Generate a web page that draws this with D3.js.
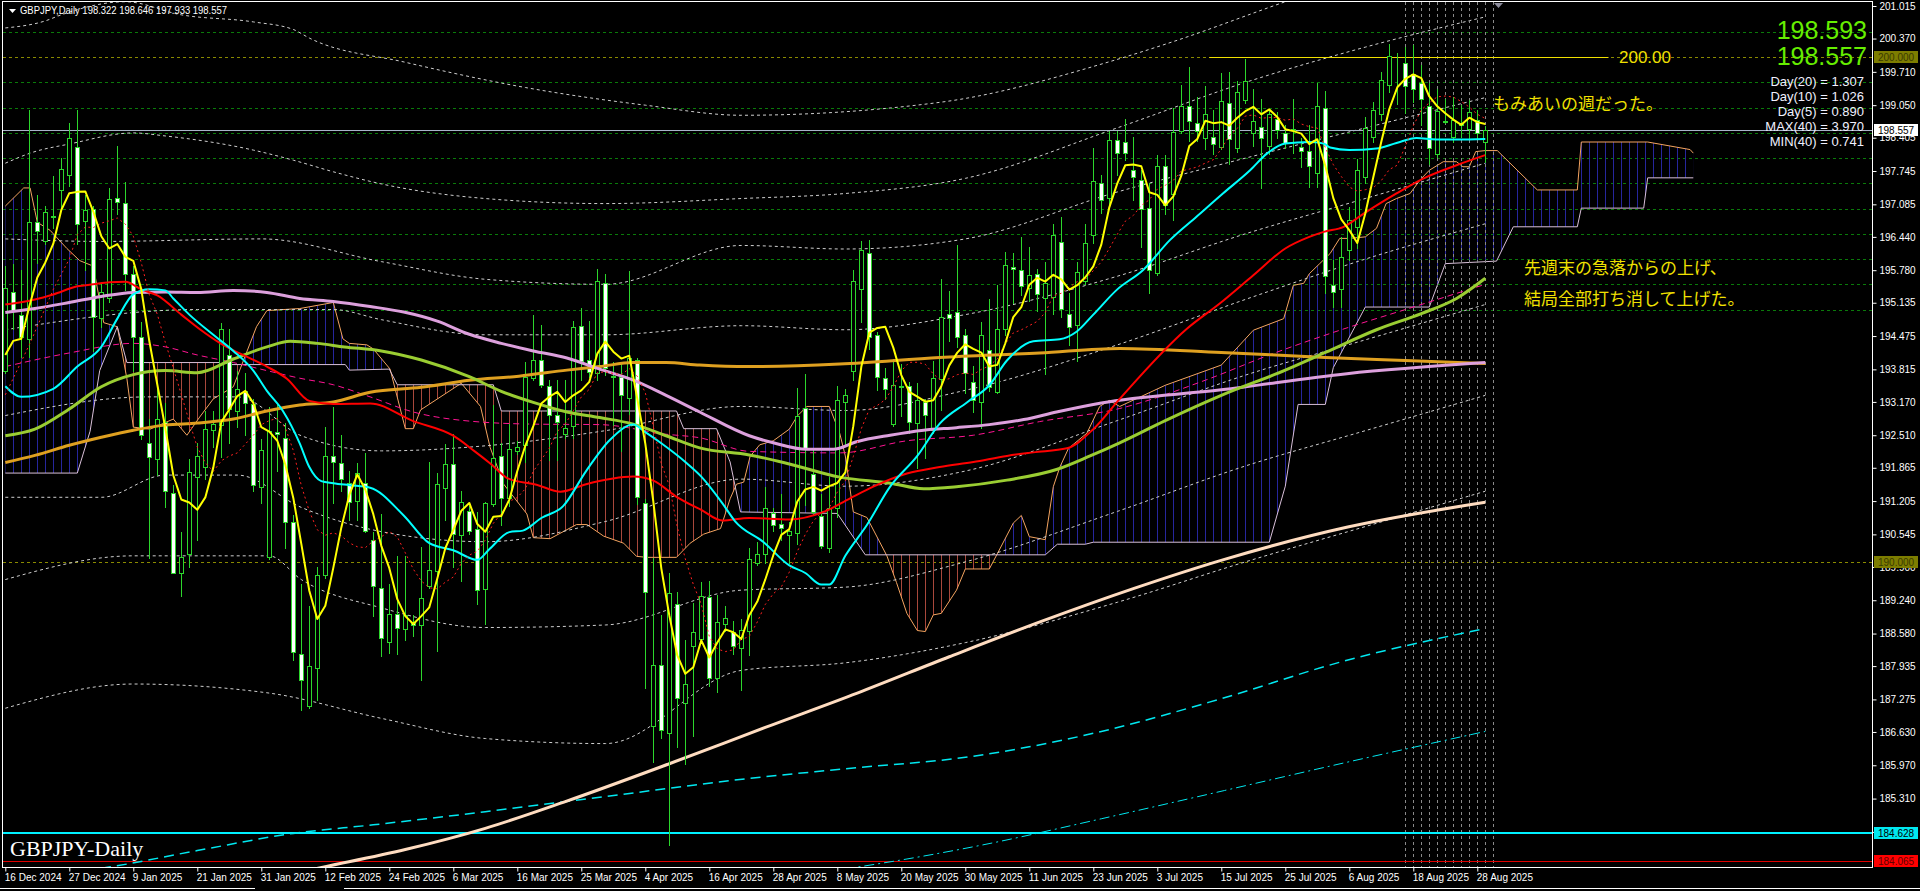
<!DOCTYPE html>
<html><head><meta charset="utf-8">
<script src="https://cdn.jsdelivr.net/npm/d3@7"></script>
<style>
html,body{margin:0;padding:0;background:#000;overflow:hidden;}
svg{display:block;}
</style></head><body>
<svg id="c" width="1920" height="891"></svg>
<script>
// ---------------- DATA ----------------
const xLabels = ["16 Dec 2024","27 Dec 2024","9 Jan 2025","21 Jan 2025","31 Jan 2025","12 Feb 2025","24 Feb 2025","6 Mar 2025","16 Mar 2025","25 Mar 2025","4 Apr 2025","16 Apr 2025","28 Apr 2025","8 May 2025","20 May 2025","30 May 2025","11 Jun 2025","23 Jun 2025","3 Jul 2025","15 Jul 2025","25 Jul 2025","6 Aug 2025","18 Aug 2025","28 Aug 2025"];
const yTicks = [201.015,200.370,199.710,199.050,198.405,197.745,197.085,196.440,195.780,195.135,194.475,193.815,193.170,192.510,191.865,191.205,190.545,189.900,189.240,188.580,187.935,187.275,186.630,185.970,185.310,184.650];

const open = [193.79,195.34,194.90,194.42,196.73,196.36,196.83,197.37,197.66,198.22,
196.76,196.99,194.84,195.22,197.21,197.11,195.70,194.45,192.35,192.03,
192.77,191.37,189.78,190.16,191.69,191.88,192.61,192.71,194.09,192.99,
193.39,193.13,191.48,190.10,192.58,192.45,190.80,188.17,187.14,187.90,
189.74,192.09,191.95,191.57,191.20,191.56,190.44,189.49,188.42,188.97,
188.68,188.79,188.74,189.52,189.82,191.47,191.94,190.53,191.01,190.66,
189.47,191.14,192.09,191.26,192.20,192.31,193.65,194.01,193.49,192.91,
192.53,192.69,194.68,194.01,193.74,195.53,193.68,193.67,193.25,194.01,
191.17,186.75,187.95,186.61,189.16,187.21,188.33,188.48,189.30,187.69,
188.77,188.61,188.30,188.64,189.97,190.16,190.96,190.75,190.54,190.58,
193.04,191.75,190.90,190.27,191.07,193.17,193.78,195.40,196.13,194.49,
193.65,192.74,193.48,193.48,192.76,193.17,192.61,193.63,194.92,194.96,
194.49,193.57,193.16,194.20,193.37,194.62,195.84,195.78,195.42,195.71,
195.22,195.24,196.34,194.92,194.70,195.57,196.48,197.50,197.22,198.36,
198.32,197.76,197.56,197.02,195.73,197.85,197.29,198.54,199.04,198.69,
198.39,198.42,198.23,199.10,198.21,199.16,198.49,198.62,198.25,198.78,
198.49,198.58,198.23,198.15,197.70,198.99,195.48,195.40,196.19,196.64,
197.62,198.41,198.87,199.45,199.91,199.89,199.67,199.48,199.04,198.09,
198.72,198.41,198.70,198.57,198.75,198.322];
const high = [195.86,195.90,195.78,198.96,197.27,197.05,197.65,198.00,198.70,198.96,
197.27,197.05,195.54,197.41,198.24,197.53,195.86,194.76,192.83,193.55,
193.15,191.52,190.60,192.03,192.35,192.99,192.99,194.74,194.62,193.79,
193.75,193.23,192.43,193.07,193.11,192.75,190.92,189.57,189.13,189.89,
192.67,193.07,192.51,191.80,191.95,192.15,190.60,190.95,189.56,190.11,
190.11,188.94,190.29,191.98,191.76,192.33,192.53,191.41,191.10,190.99,
191.19,193.10,192.35,192.73,192.39,193.96,194.90,194.70,193.60,193.60,
193.60,194.77,195.03,194.77,195.80,195.71,193.96,193.96,195.76,194.04,
191.25,190.07,188.94,189.78,189.41,188.46,189.19,189.60,189.63,189.34,
189.13,188.83,188.86,190.27,190.39,191.49,191.07,191.34,190.80,193.45,
193.73,192.25,191.34,191.68,193.48,193.42,195.79,196.36,196.38,194.56,
193.84,194.03,193.92,193.57,193.55,193.22,193.99,195.60,195.36,196.28,
194.61,193.88,194.75,195.21,195.49,196.15,196.13,196.44,196.23,195.81,
195.95,196.69,196.84,195.32,195.94,196.69,198.20,197.67,198.54,198.54,
198.77,198.42,197.76,197.50,198.07,198.06,198.99,199.45,199.80,199.22,
199.43,198.95,199.69,199.71,199.52,199.96,199.38,199.18,198.95,198.92,
198.66,199.18,198.39,198.66,199.48,199.34,195.98,196.44,197.04,197.99,
198.82,199.12,199.71,200.26,200.08,200.20,200.24,199.85,199.48,199.38,
199.18,199.22,199.05,199.15,198.95,198.646];
const low = [193.75,194.62,194.06,194.06,195.93,196.29,196.61,196.97,197.45,196.29,
195.78,194.18,194.66,195.14,196.89,195.38,193.79,192.43,190.08,191.72,
191.08,189.77,189.33,189.89,190.44,191.64,192.27,192.07,192.35,192.67,
192.51,191.40,191.16,190.05,191.80,190.28,188.05,187.06,187.10,187.26,
189.69,191.16,191.40,190.84,190.84,190.60,188.93,188.13,188.20,188.17,
188.46,188.53,187.65,189.49,188.24,190.84,189.89,189.63,190.55,189.16,
188.77,191.10,190.73,191.10,192.13,191.97,193.60,193.46,192.02,192.02,
192.46,192.46,193.60,193.67,193.60,193.71,192.72,192.20,192.94,191.14,
187.50,186.04,186.51,184.39,186.33,186.00,186.55,188.46,187.54,187.43,
188.64,188.17,187.47,188.15,189.93,189.97,190.62,190.43,189.97,190.35,
191.12,190.92,190.27,190.20,190.88,192.32,193.61,194.75,194.22,193.40,
193.23,192.70,192.89,192.55,191.87,192.06,192.55,193.00,194.37,194.26,
193.35,192.97,192.66,193.38,193.35,194.49,195.13,195.28,195.17,194.98,
193.73,194.92,194.86,194.30,193.99,195.51,196.31,196.91,197.07,197.67,
197.96,197.17,196.24,195.32,195.68,196.90,196.77,198.49,198.34,198.34,
198.19,198.09,198.19,197.89,198.13,199.10,198.24,197.40,198.09,198.39,
198.21,198.11,197.83,197.43,197.43,195.32,195.05,195.05,195.99,196.21,
197.50,198.32,198.76,199.32,199.08,198.89,199.12,198.66,197.89,198.03,
198.70,198.32,198.42,198.37,198.39,197.933];
const close = [195.43,194.99,194.46,196.73,196.56,196.93,196.85,197.79,198.40,196.69,
196.97,194.86,195.34,197.19,197.13,195.71,194.46,192.51,192.07,192.83,
191.40,189.78,190.10,191.78,192.10,192.63,192.73,194.61,193.03,193.43,
193.15,191.52,192.21,192.59,192.53,190.80,188.21,187.66,187.94,189.74,
192.10,191.97,191.64,191.18,191.76,190.62,189.53,188.50,188.97,188.69,
188.94,188.74,189.29,189.84,191.54,191.94,190.55,191.19,190.62,189.45,
191.17,192.05,191.26,192.24,192.28,193.67,194.00,193.50,192.91,192.77,
192.66,194.66,193.99,193.76,195.56,193.85,193.67,193.30,194.05,191.28,
189.41,187.96,186.66,189.39,187.31,187.59,188.61,189.33,187.69,188.80,
188.88,188.33,188.66,190.05,190.15,191.07,190.73,190.68,190.62,192.89,
192.26,190.98,190.31,191.07,193.20,193.31,195.56,196.19,194.45,193.67,
193.42,193.50,193.47,192.78,193.20,192.92,193.65,194.86,194.84,194.46,
193.75,193.20,194.49,193.46,194.62,195.89,195.80,195.47,195.68,195.30,
195.52,196.47,195.02,194.66,195.74,196.31,197.54,197.18,198.36,198.11,
198.11,197.62,197.00,195.78,197.85,197.07,198.52,199.04,198.73,198.54,
198.87,198.29,199.14,198.38,199.32,199.52,198.73,198.39,198.87,198.56,
198.31,198.55,198.14,197.84,199.04,195.67,195.35,196.04,196.77,197.76,
198.59,198.95,199.55,200.02,199.91,199.43,199.38,199.18,198.21,198.94,
198.74,198.75,198.66,198.92,198.50,198.557];

// leading values of the short averages (before enough bars exist)
const sma5Lead = [[0,194.10],[1,194.38],[2,194.42],[3,195.06]];
const sma10Lead = [[0,193.31],[3,194.30],[6,195.40],[8,196.00]];

// Moving-average lines: [bar, price]
const maCyan = [[0,193.48],[2,193.27],[6,193.43],[9,193.87],[12,194.26],[14,194.82],[16,195.30],[18,195.40],[20,195.38],[21,195.22],[23,194.90],[26,194.50],[28.5,194.18],[31,193.79],[32.7,193.39],[34.7,192.99],[36.8,192.35],[38,191.88],[39.5,191.60],[41,191.56],[43,191.52],[45.6,191.47],[49.8,190.92],[53,190.37],[56,190.23],[59,190.04],[60.5,190.25],[63,190.59],[64.7,190.62],[67,190.87],[69.7,191.10],[72.6,191.80],[75.6,192.42],[78.5,192.72],[80,192.57],[82,192.35],[85,191.98],[87,191.69],[89.6,191.17],[91.2,190.81],[94.8,190.39],[98,189.93],[100,189.78],[102,189.55],[103,189.55],[105,190.12],[107.7,190.73],[110.6,191.49],[114,192.10],[116.8,192.74],[120.2,193.16],[123,193.50],[125.2,193.99],[128.5,194.37],[131.8,194.41],[133.9,194.56],[136,194.90],[139,195.40],[142.2,195.78],[145.6,196.38],[148.9,196.84],[152.2,197.30],[155.6,197.76],[157.7,198.09],[160,198.29],[163,198.32],[164.8,198.29],[165.6,198.21],[168,198.16],[171.4,198.19],[173.9,198.30],[176.4,198.40],[178.9,198.37],[181.4,198.37],[185,198.38]];
const maRed = [[0,195.10],[3.7,195.20],[6,195.30],[9,195.46],[11,195.50],[13,195.54],[15,195.55],[17,195.40],[19,195.28],[22,194.90],[24.4,194.60],[26.8,194.34],[29.3,194.13],[32.7,193.87],[35.2,193.63],[38,193.19],[41,193.13],[45.6,193.14],[51,192.79],[56,192.50],[58.6,192.20],[60.7,191.94],[62.9,191.65],[66.4,191.53],[69.4,191.39],[72.6,191.54],[78.5,191.69],[81,191.61],[84,191.28],[87,191.03],[89.6,190.82],[93,190.87],[98,190.84],[102.3,190.99],[105.6,191.26],[108.5,191.49],[112.7,191.75],[116.8,191.88],[121,191.98],[125.2,192.10],[128.5,192.17],[132.7,192.25],[136,192.63],[139.3,193.23],[147.7,194.62],[151.8,195.12],[156,195.68],[160,196.21],[163,196.44],[164.8,196.54],[167.3,196.64],[169.8,196.90],[173.9,197.30],[177.3,197.60],[181.4,197.86],[185,198.06]];
const maPlum = [[0,194.94],[3.7,195.02],[8,195.14],[12,195.26],[16,195.34],[20,195.35],[24,195.34],[28.5,195.38],[32.7,195.34],[36.8,195.22],[41,195.16],[45.6,195.06],[49.8,194.95],[54,194.77],[58,194.51],[62,194.33],[66,194.18],[70.2,194.04],[74.3,193.82],[78.5,193.60],[82.6,193.30],[86.8,192.97],[93,192.50],[96,192.36],[100.2,192.23],[103.5,192.23],[106.4,192.38],[110.6,192.51],[114.8,192.61],[118.9,192.66],[123,192.72],[127.3,192.82],[131.4,192.97],[137,193.15],[152,193.41],[167.7,193.73],[185,193.95]];
const maGold = [[0,191.97],[3.7,192.11],[8,192.31],[12,192.47],[16,192.61],[20,192.71],[24,192.75],[28.5,192.83],[32.7,192.99],[36.8,193.11],[41,193.17],[45.6,193.36],[52,193.46],[58,193.60],[64.2,193.68],[70.2,193.80],[74.3,193.87],[78.5,193.95],[82.6,193.95],[86.8,193.90],[93,193.87],[104.3,193.92],[116.8,194.05],[129.3,194.14],[139.3,194.23],[152,194.15],[165,194.05],[175,193.99],[185,193.93]];
const maYellowGreen = [[0,192.50],[3.7,192.63],[8,193.03],[12,193.47],[16,193.71],[20,193.79],[24,193.75],[28.5,194.02],[32.7,194.26],[35.6,194.37],[39,194.33],[42.4,194.26],[47,194.18],[52,194.00],[58,193.67],[62,193.38],[66,193.16],[70.2,192.97],[74.3,192.86],[78.5,192.73],[82.6,192.50],[86.8,192.26],[93,192.12],[98,191.94],[104.3,191.68],[110.6,191.56],[114.8,191.45],[118.9,191.49],[125.2,191.62],[131.4,191.83],[135.6,192.10],[139.3,192.36],[145,192.80],[152,193.30],[160,193.80],[165,194.15],[171.4,194.60],[177,194.92],[181.4,195.22],[185,195.62]];
const maCream = [[34,183.76],[40,183.96],[50,184.30],[60,184.72],[70,185.25],[83,186.00],[95,186.72],[106.5,187.40],[118,188.12],[129.5,188.82],[141,189.47],[152.4,190.05],[167.8,190.69],[185,191.18]];
const envCyanDash = [[8,183.85],[12,183.93],[24,184.28],[36,184.62],[46,184.79],[60,185.05],[75,185.35],[93,185.71],[105,185.90],[121,186.15],[137,186.64],[152,187.29],[167,188.02],[185,188.68]];
const envCyanDashDot = [[95,183.70],[106,183.94],[121.8,184.38],[137,184.91],[152.4,185.47],[167.7,186.03],[185,186.64]];
const pinkDash = [[0,193.87],[8,194.14],[16,194.33],[20,194.26],[24,194.10],[28.5,193.95],[32.7,193.79],[36.8,193.64],[41,193.51],[45.6,193.27],[51,192.97],[58,192.79],[66,192.73],[74.3,192.72],[82.6,192.53],[86.8,192.46],[93,192.19],[104.3,192.16],[112.7,192.40],[121,192.51],[129.3,192.78],[139.3,193.04],[150,193.60],[158,194.10],[167,194.60],[175,195.00],[185,195.50]];

// Ichimoku spans (shifted 26 bars ahead)
const spanA = [[0,197.05],[2.3,197.41],[3.1,197.41],[4,196.73],[5.6,196.57],[7.7,196.21],[9.3,195.97],[11,195.86],[12.3,194.74],[14,194.66],[15.2,193.63],[16,192.67],[18.1,192.63],[21,192.83],[22.7,192.51],[24.3,192.87],[26,193.23],[28.5,193.47],[31.4,194.66],[32.7,194.98],[36.8,195.02],[41,195.14],[42.2,194.42],[43,194.33],[45.2,194.30],[46,194.22],[48.1,193.82],[50,192.64],[51,192.64],[51.9,193.01],[57,193.54],[59.4,193.08],[60.6,192.27],[62.3,191.54],[65.2,190.95],[66,190.48],[68.1,190.46],[71.4,190.74],[72.7,190.74],[74.8,190.51],[77.3,190.37],[78.9,190.11],[80.2,190.09],[83.9,190.09],[85.6,190.37],[87.3,190.55],[89.4,190.66],[90.6,191.25],[91.4,191.54],[92.3,191.58],[93.1,192.09],[94.3,192.32],[96,192.40],[98,192.63],[99,192.89],[100.2,193.08],[103,193.08],[104.3,192.55],[105,192.10],[106,190.99],[107.7,190.88],[110.2,190.12],[111.4,189.59],[112.7,188.98],[114,188.64],[115,188.62],[116,188.95],[117,188.98],[118.9,189.44],[120,189.86],[123,189.86],[124,190.16],[126,190.77],[127,190.92],[128,190.50],[130,190.44],[131,191.49],[131.8,191.87],[132.9,192.25],[135.2,192.55],[136.8,193.08],[138,193.20],[139.3,193.08],[145,193.50],[152,193.90],[156,194.59],[159.8,194.82],[161,195.48],[162.3,195.52],[163,195.71],[164.3,195.91],[165.6,196.11],[166.8,196.41],[168,196.41],[170,196.44],[171.4,196.61],[172.6,197.10],[173.9,197.20],[175.6,197.30],[176.8,197.56],[178,197.76],[179.75,197.93],[181.4,197.93],[182.2,197.83],[183,197.83],[183.8,198.13],[185,198.15],[186.5,198.15],[191.5,197.37],[196.5,197.37],[197,198.32],[205.3,198.32],[210.6,198.17],[211,198.10]];
const spanB = [[0,191.76],[9,191.76],[10.6,192.59],[11.8,193.79],[14,194.66],[15.2,193.95],[27.5,193.95],[28,193.91],[42.5,193.91],[43,193.80],[48,193.82],[49,193.51],[61,193.51],[62,192.99],[83.9,192.99],[84.8,192.64],[88.9,192.64],[90.6,191.98],[91.9,190.99],[104,190.96],[107.5,190.14],[130,190.14],[131.5,190.35],[135,190.35],[136,190.39],[158,190.39],[160,191.50],[161.6,193.12],[165,193.12],[166,193.85],[170,195.05],[178,195.05],[180,195.91],[186.4,195.96],[188.5,196.64],[196.5,196.64],[197,197.01],[204.8,197.01],[205.3,197.61],[211,197.61]];

// Dotted deviation bands: [bar, price]
const bands = [
 [[0,200.58],[5,200.72],[7,200.84],[15,201.10],[22,200.84],[31,200.70],[36,200.55],[38,200.38],[50,199.90],[65,199.40],[80,199.05],[92,198.85],[117,199.11],[138,199.91],[146,200.31],[160,201.10],[175,201.90]],
 [[0,197.90],[3.5,198.12],[8,198.28],[16,198.50],[20,198.44],[31,198.16],[36,197.96],[41,197.73],[47,197.49],[60,197.20],[75,197.10],[92,197.20],[105,197.30],[120,197.60],[139,198.60],[155,199.50],[170,200.20],[185,200.80]],
 [[0,196.40],[12,196.35],[32,196.40],[47,195.95],[60,195.60],[75,195.50],[92,196.27],[105,196.20],[120,196.40],[139,197.33],[155,198.00],[170,198.60],[185,199.20]],
 [[0,194.60],[24,195.00],[41,195.00],[47,194.80],[60,194.50],[75,194.50],[92,194.68],[105,194.60],[120,194.90],[139,195.66],[155,196.50],[170,197.20],[185,197.90]],
 [[0,192.90],[18,193.27],[29,193.27],[37,192.50],[47,192.20],[60,192.30],[75,192.60],[92,193.08],[105,193.00],[120,193.40],[139,194.30],[155,195.20],[170,196.00],[185,196.70]],
 [[0,191.28],[12,191.28],[20,191.72],[29,191.72],[37,191.08],[47,190.60],[60,190.40],[75,190.80],[92,191.64],[105,191.50],[120,191.80],[139,192.80],[155,193.70],[170,194.40],[185,195.10]],
 [[0,189.65],[16,190.12],[33,190.12],[37,189.65],[47,189.09],[60,188.70],[75,188.75],[92,189.44],[105,189.50],[120,190.00],[139,191.00],[155,191.90],[170,192.60],[185,193.30]],
 [[0,187.10],[16,187.58],[33,187.40],[47,186.90],[60,186.50],[75,186.40],[92,187.85],[105,188.00],[120,188.40],[139,189.20],[155,190.00],[170,190.70],[185,191.40]]
];

const gridLevels = [195.0,195.5,196.0,196.5,197.0,197.5,198.0,198.5,199.0,199.5,200.5];
const roundLevels = [200.0, 190.0];
const markedBars = [175,176,177,178,179,180,181,182,183,184,185,186];
const infoLines = ["Day(20) = 1.307","Day(10) = 1.026","Day(5) = 0.890","MAX(40) = 3.970","MIN(40) = 0.741"];
const bidPrice = 198.557, askPrice = 198.593;
const levelLine = 200.0;
const cyanLevel = 184.628, redLevel = 184.065;
const notes = ["もみあいの週だった。","先週末の急落からの上げ、","結局全部打ち消して上げた。"];
const header = "GBPJPY,Daily  198.322 198.646 197.933 198.557";

// ---------------- CHART ----------------
const svg = d3.select("#c");
const P = {left: 3, top: 2, right: 1872, bottom: 867};
const x = d3.scaleLinear().domain([0, 185]).range([5.3, 5.3 + 8 * 185]);
const y = d3.scaleLinear().domain([184.628, 201.015]).range([833, 6]);
const px = v => Math.round(x(v)) + 0.5;
const py = v => Math.round(y(v)) + 0.5;

svg.append("rect").attr("width",1920).attr("height",891).attr("fill","#000");
const defs = svg.append("defs");
defs.append("clipPath").attr("id","plotClip").append("rect")
  .attr("x",P.left).attr("y",P.top).attr("width",P.right-P.left).attr("height",P.bottom-P.top);

const root = svg.append("g").attr("clip-path","url(#plotClip)");

// grid
root.selectAll("line.grid").data(gridLevels).join("line")
  .attr("x1",P.left).attr("x2",P.right).attr("y1",d=>py(d)).attr("y2",d=>py(d))
  .attr("stroke","#0a7a0a").attr("stroke-dasharray","3,3");
root.selectAll("line.round").data(roundLevels).join("line")
  .attr("x1",P.left).attr("x2",P.right).attr("y1",d=>py(d)).attr("y2",d=>py(d))
  .attr("stroke","#8a8a00").attr("stroke-dasharray","3,3");

// cloud (hatched)
const hatchBars = d3.range(0, 212);
function areaDown(pts){ return d3.area().x(d=>x(d[0])).y0(P.bottom+20).y1(d=>y(d[1]))(pts); }
function areaUp(pts){ return d3.area().x(d=>x(d[0])).y0(-20).y1(d=>y(d[1]))(pts); }
defs.append("clipPath").attr("id","belowA").append("path").attr("d",areaDown(spanA));
defs.append("clipPath").attr("id","aboveB").append("path").attr("d",areaUp(spanB));
defs.append("clipPath").attr("id","belowB").append("path").attr("d",areaDown(spanB));
defs.append("clipPath").attr("id","aboveA").append("path").attr("d",areaUp(spanA));
function hatch(c1, c2, color){
  const g = root.append("g").attr("clip-path",`url(#${c1})`).append("g").attr("clip-path",`url(#${c2})`);
  g.selectAll("line").data(hatchBars).join("line")
   .attr("x1",d=>px(d)).attr("x2",d=>px(d)).attr("y1",0).attr("y2",P.bottom)
   .attr("stroke",color).attr("stroke-width",1);
}
hatch("belowA","aboveB","#26269c");
hatch("belowB","aboveA","#a8483c");

function drawLine(pts, color, width, dash, curve){
  root.append("path").datum(pts)
    .attr("d", d3.line().defined(d=>d[1]!=null).x(d=>x(d[0])).y(d=>y(d[1])).curve(curve || d3.curveMonotoneX))
    .attr("fill","none").attr("stroke",color).attr("stroke-width",width)
    .attr("stroke-dasharray",dash||null).attr("stroke-linejoin","round");
}
drawLine(spanA, "#f4a460", 1, null, d3.curveLinear);
drawLine(spanB, "#d8bfd8", 1, null, d3.curveLinear);

// dotted bands
bands.forEach(b => drawLine(b, "#cfcfcf", 1, "3,3"));

// marked vertical lines
root.selectAll("line.vmark").data(markedBars).join("line")
  .attr("x1",d=>px(d)).attr("x2",d=>px(d)).attr("y1",P.top).attr("y2",P.bottom)
  .attr("stroke","#8a8a8a").attr("stroke-dasharray","3,3");

// horizontal price lines
root.append("line").attr("x1",P.left).attr("x2",P.right).attr("y1",py(bidPrice)).attr("y2",py(bidPrice)).attr("stroke","#a8b4c8");
root.append("line").attr("x1",P.left).attr("x2",P.right).attr("y1",Math.round(y(cyanLevel))).attr("y2",Math.round(y(cyanLevel))).attr("stroke","#00f0ff").attr("stroke-width",2);
root.append("line").attr("x1",P.left).attr("x2",P.right).attr("y1",py(redLevel)).attr("y2",py(redLevel)).attr("stroke","#e00000");
root.append("line").attr("x1",x(150.5)).attr("x2",x(200.4)).attr("y1",py(levelLine)).attr("y2",py(levelLine)).attr("stroke","#f0e000");

// long-period lines
drawLine(envCyanDashDot, "#00e8f0", 1, "10,4,2,4");
drawLine(envCyanDash, "#00e8f0", 1.5, "10,6");
drawLine(maCream, "#ffdcc0", 3);
drawLine(pinkDash, "#ff1493", 1, "6,4");

// candles
const bars = d3.range(open.length).map(i => ({i, o:open[i], h:high[i], l:low[i], c:close[i]}));
const cg = root.append("g");
cg.selectAll("line.wick").data(bars).join("line")
  .attr("x1",d=>px(d.i)).attr("x2",d=>px(d.i))
  .attr("y1",d=>Math.round(y(d.h))).attr("y2",d=>Math.round(y(d.l))+1)
  .attr("stroke","#2cd62c");
cg.selectAll("rect.body").data(bars).join("rect")
  .attr("x",d=>Math.round(x(d.i))-1.5).attr("width",4)
  .attr("y",d=>py(Math.max(d.o,d.c)))
  .attr("height",d=>Math.max(0, Math.round(y(Math.min(d.o,d.c))) - Math.round(y(Math.max(d.o,d.c)))))
  .attr("fill",d=>d.c>=d.o ? "#000" : "#fff")
  .attr("stroke","#2cd62c");

// moving averages
drawLine(maGold, "#dfa020", 3);
drawLine(maPlum, "#dda0dd", 3);
drawLine(maYellowGreen, "#9acd32", 3);
drawLine(maRed, "#ff0000", 2);
drawLine(maCyan, "#00ffff", 2);
function sma(arr, n){ return arr.map((v,i)=> [i, d3.mean(arr.slice(i-n+1, i+1))]).slice(n-1); }
drawLine(sma10Lead.concat(sma(close,10)), "#ff2020", 1, "2,3", d3.curveLinear);
drawLine(sma5Lead.concat(sma(close,5)), "#ffff00", 2, null, d3.curveLinear);

// frame
svg.append("rect").attr("x",P.left-0.5).attr("y",P.top-0.5).attr("width",P.right-P.left+1).attr("height",P.bottom-P.top+1)
  .attr("fill","none").attr("stroke","#fff");
svg.append("line").attr("x1",0).attr("x2",255).attr("y1",888.5).attr("y2",888.5).attr("stroke","#fff");
svg.append("line").attr("x1",344).attr("x2",1920).attr("y1",888.5).attr("y2",888.5).attr("stroke","#fff");

// axes
const FONT = "'Liberation Sans', Arial, sans-serif";
const ya = svg.append("g").attr("transform",`translate(${P.right+0.5},0)`)
  .call(d3.axisRight(y).tickValues(yTicks).tickFormat(d3.format(".3f")).tickSize(4).tickPadding(3));
ya.select(".domain").remove();
ya.selectAll("line").attr("stroke","#fff");
ya.selectAll("text").attr("fill","#fff").style("font-family",FONT).style("font-size","10px");

const xa = svg.append("g").attr("transform",`translate(0,${P.bottom+0.5})`)
  .call(d3.axisBottom(x).tickValues(xLabels.map((_,k)=>k*8)).tickFormat((d,k)=>xLabels[k]).tickSize(4).tickPadding(2));
xa.select(".domain").remove();
xa.selectAll("line").attr("stroke","#fff");
xa.selectAll("text").attr("fill","#fff").attr("text-anchor","start").attr("x",-1)
  .style("font-family",FONT).style("font-size","10px");

// right-axis price boxes
function priceBox(v, fill, textColor){
  const yy = Math.round(y(v));
  svg.append("rect").attr("x",P.right+2).attr("y",yy-6).attr("width",44).attr("height",12).attr("fill",fill);
  svg.append("text").attr("x",P.right+6).attr("y",yy+4).attr("fill",textColor)
    .style("font-family",FONT).style("font-size","10px").text(d3.format(".3f")(v));
}
priceBox(200.0, "#7d7d00", "#3a3a00");
priceBox(190.0, "#7d7d00", "#3a3a00");
priceBox(bidPrice, "#ffffff", "#000");
priceBox(cyanLevel, "#00e8f0", "#000");
priceBox(redLevel, "#ff0000", "#600000");

// header
svg.append("path").attr("d","M9,9 L16,9 L12.5,13 Z").attr("fill","#fff");
svg.append("text").attr("x",20).attr("y",14).attr("fill","#fff").style("font-family",FONT).style("font-size","10px")
  .attr("textLength",207).attr("lengthAdjust","spacingAndGlyphs").text(header);
svg.append("path").attr("d","M1494,3 L1503,3 L1498.5,8 Z").attr("fill","#8c8c9c");

// big price display
svg.append("text").attr("x",1867).attr("y",39).attr("text-anchor","end").attr("fill","#66ee00")
  .style("font-family",FONT).style("font-size","25px").text(d3.format(".3f")(askPrice));
svg.append("text").attr("x",1867).attr("y",65).attr("text-anchor","end").attr("fill","#66ee00")
  .style("font-family",FONT).style("font-size","25px").text(d3.format(".3f")(bidPrice));
svg.selectAll("text.info").data(infoLines).join("text")
  .attr("x",1864).attr("y",(d,k)=>86+k*15).attr("text-anchor","end").attr("fill","#f0f0ff")
  .style("font-family",FONT).style("font-size","13px").text(d=>d);

// level label and notes
svg.append("text").attr("x",1619).attr("y",63).attr("fill","#f0e000")
  .style("font-family",FONT).style("font-size","17px").text(d3.format(".2f")(levelLine));
const JP = "'Noto Sans CJK JP', sans-serif";
svg.append("text").attr("x",1493).attr("y",110).attr("fill","#f0e000").style("font-family",JP).style("font-size","17px").text(notes[0]);
svg.append("text").attr("x",1524).attr("y",274).attr("fill","#f0e000").style("font-family",JP).style("font-size","17px").text(notes[1]);
svg.append("text").attr("x",1524).attr("y",305).attr("fill","#f0e000").style("font-family",JP).style("font-size","17px").text(notes[2]);

// symbol caption
svg.append("text").attr("x",10).attr("y",856).attr("fill","#fff")
  .style("font-family","'Liberation Serif', 'Times New Roman', serif").style("font-size","22px").text("GBPJPY-Daily");
</script>
</body></html>
